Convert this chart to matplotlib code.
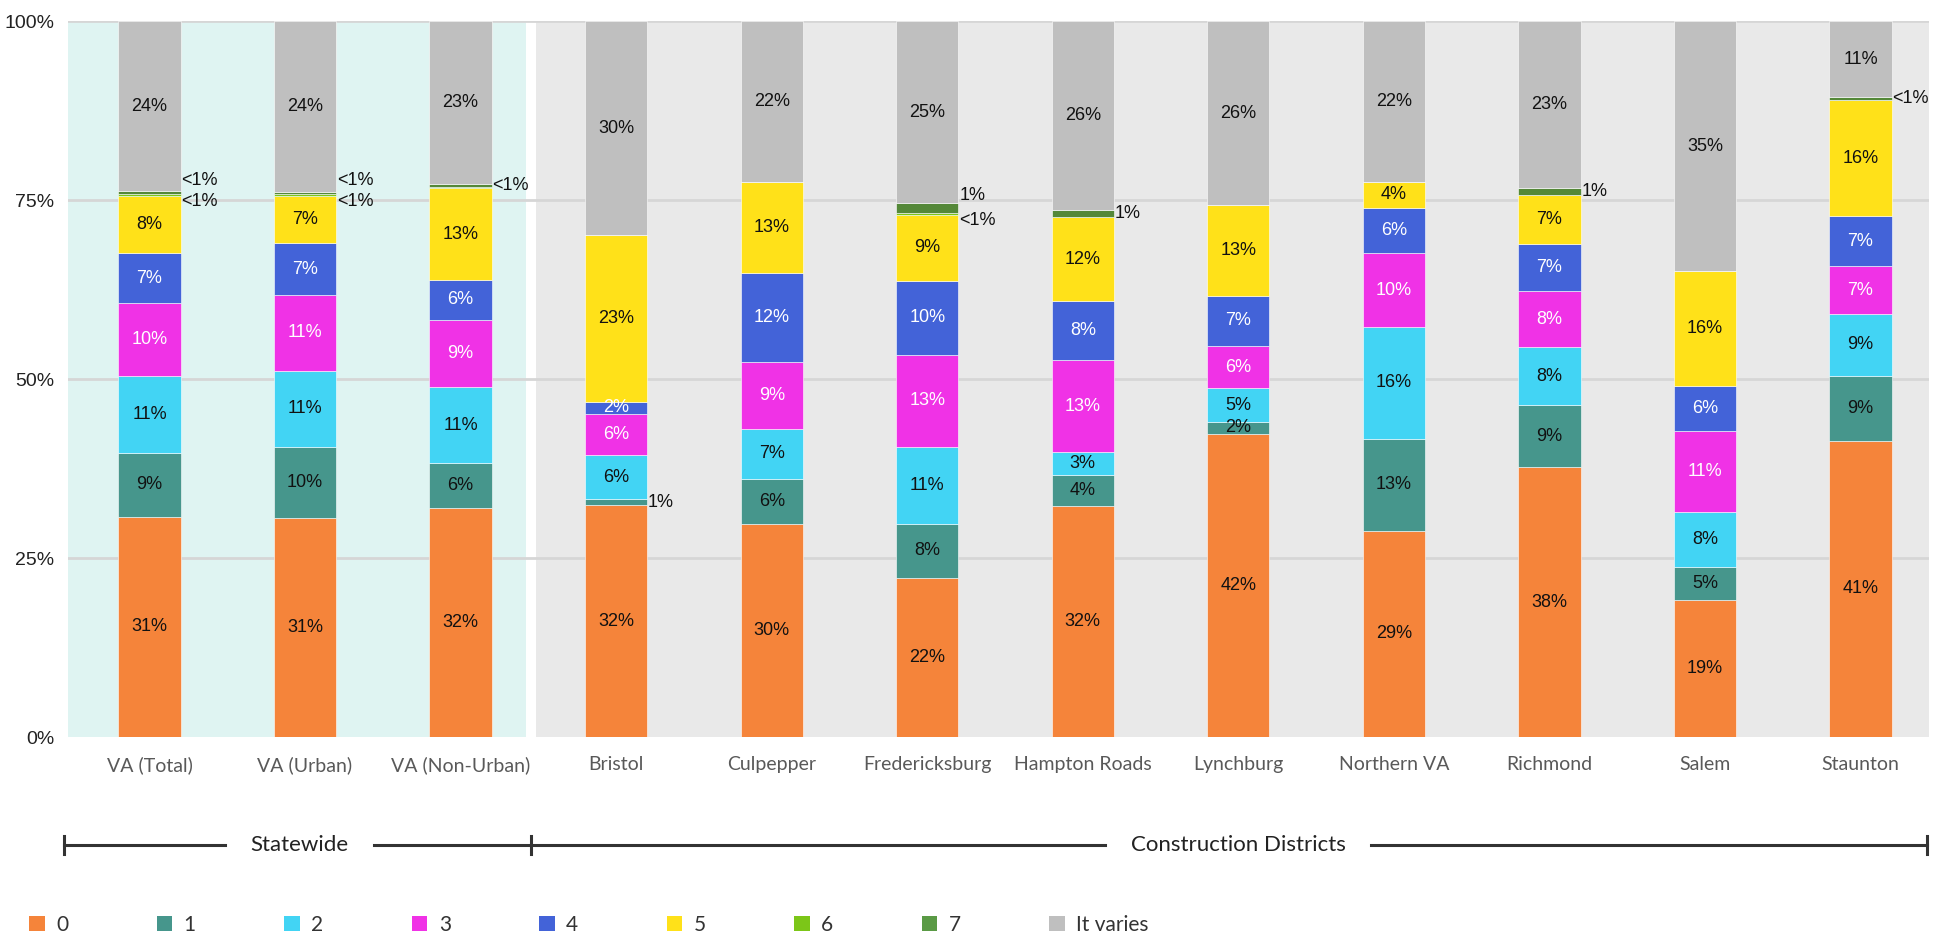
import matplotlib
matplotlib.use('Agg')
import matplotlib.pyplot as plt
from matplotlib.patches import Patch
import numpy as np

# ── Data (percent of respondents) ─────────────────────────────
categories = ['VA (Total)', 'VA (Urban)', 'VA (Non-Urban)', 'Bristol', 'Culpepper',
              'Fredericksburg', 'Hampton Roads', 'Lynchburg', 'Northern VA',
              'Richmond', 'Salem', 'Staunton']
series_names = ['0', '1', '2', '3', '4', '5', '6', '7', 'It varies']

v0 = [30.8, 30.6, 32.0, 32.4, 29.7, 22.2, 32.3, 42.4, 28.8, 37.7, 19.1, 41.4]
v1 = [8.9, 10.0, 6.3, 0.8, 6.4, 7.6, 4.3, 1.6, 12.9, 8.7, 4.6, 9.1]
v2 = [10.8, 10.6, 10.6, 6.2, 7.0, 10.8, 3.2, 4.8, 15.6, 8.1, 7.8, 8.6]
v3 = [10.2, 10.6, 9.4, 5.8, 9.3, 12.8, 12.9, 5.8, 10.3, 7.8, 11.3, 6.7]
v4 = [6.9, 7.2, 5.6, 1.6, 12.4, 10.4, 8.2, 7.1, 6.4, 6.6, 6.3, 7.0]
v5 = [8.0, 6.6, 12.8, 23.4, 12.8, 9.1, 11.8, 12.6, 3.6, 6.9, 16.0, 16.2]
v6 = [0.3, 0.3, 0.2, 0, 0, 0.4, 0, 0, 0, 0, 0, 0]
v7 = [0.4, 0.3, 0.4, 0, 0, 1.3, 0.9, 0, 0, 0.9, 0, 0.4]
v_varies = [23.7, 23.8, 22.7, 29.8, 22.4, 25.4, 26.4, 25.7, 22.4, 23.3, 34.9, 10.6]

groups = ['Statewide', 'Construction Districts']

colors = ['#F5843A', '#46968C', '#42D4F4', '#F032E6', '#4363D8',
          '#FFE119', '#7CC618', '#548838', '#BFBFBF']
legend_colors = colors[:7] + ['#5A9A45', '#BFBFBF']
white_text = {3, 4}

values = np.array([v0, v1, v2, v3, v4, v5, v6, v7, v_varies])
x = np.arange(len(categories))
bar_w = 0.4

# ── Figure ────────────────────────────────────────────────────
fig = plt.figure(figsize=(19.39, 9.38), dpi=100)
ax = fig.add_axes([68 / 1939, 1 - 737 / 938, (1929 - 68) / 1939, (737 - 21.5) / 938])
ax.set_xlim(-0.524, 11.44)
ax.set_ylim(0, 100)

lab_font = ['Liberation Sans Narrow', 'Liberation Sans', 'DejaVu Sans']
cat_font = ['Lato', 'DejaVu Sans']

# background bands
ax.axvspan(-0.6, 2.42, color='#DFF4F2', zorder=0, lw=0)
ax.axvspan(2.485, 11.6, color='#E9E9E9', zorder=0, lw=0)
for yv in [25, 50, 75, 100]:
    ax.axhline(yv, color='#D6D6D6', lw=2, zorder=1)

bottom = np.zeros(len(categories))
for k, name in enumerate(series_names):
    vals = values[k]
    ax.bar(x, vals, bar_w, bottom=bottom, color=colors[k], edgecolor='#FFFFFF',
           linewidth=0.4, zorder=2, label=name)
    for i, v in enumerate(vals):
        if v < 0.25:
            continue
        mid = bottom[i] + v / 2
        txt = '<1%' if v < 0.5 else f'{v:.0f}%'
        if v < 1.4:
            # tiny segments are labelled to the right of the bar
            dy = 0
            if k == 7 and v6[i] >= 0.25:
                dy = 9
            elif k == 6 and v7[i] >= 0.25:
                dy = -5
            ax.annotate(txt, (x[i] + bar_w / 2 + 0.005, mid), xytext=(0, dy),
                        textcoords='offset points', ha='left', va='center',
                        fontsize=13, family=lab_font, color='#111111', zorder=4)
        else:
            ax.text(x[i], mid, txt, ha='center', va='center', fontsize=13,
                    family=lab_font, zorder=4,
                    color='white' if k in white_text else '#111111')
    bottom += vals

for s in ax.spines.values():
    s.set_visible(False)
ax.set_yticks([0, 25, 50, 75, 100])
ax.set_yticklabels(['0%', '25%', '50%', '75%', '100%'], family=lab_font,
                   fontsize=14, color='#222222')
ax.set_xticks(x)
ax.set_xticklabels(categories, family=cat_font, fontsize=14, color='#595959')
ax.tick_params(length=0, axis='both')
ax.tick_params(axis='x', pad=14)
ax.tick_params(axis='y', pad=10)

# ── Group brackets ────────────────────────────────────────────
yb = -15.1
div = 2.45
edges = [(-0.55, div), (div, 11.43)]
centers = [0.965, 7.0]
halves = [0.48, 0.855]
for gname, (l, r), c, half in zip(groups, edges, centers, halves):
    ax.plot([l, c - half], [yb, yb], color='#333333', lw=2.2, clip_on=False)
    ax.plot([c + half, r], [yb, yb], color='#333333', lw=2.2, clip_on=False)
    ax.text(c, yb, gname, ha='center', va='center', fontsize=16,
            family=cat_font, color='#222222', clip_on=False)
for xe in [-0.55, div, 11.43]:
    ax.plot([xe, xe], [yb - 1.2, yb + 1.2], color='#333333', lw=2.2, clip_on=False)

# ── Legend ────────────────────────────────────────────────────
handles = [Patch(facecolor=c, edgecolor='none') for c in legend_colors]
fig.legend(handles, series_names, loc='center left',
           bbox_to_anchor=(29 / 1939, 1 - 925 / 938), ncol=9, frameon=False,
           prop={'family': cat_font, 'size': 15}, labelcolor='#333333',
           handlelength=0.75, handleheight=0.75, handletextpad=0.55,
           columnspacing=4.24, borderpad=0, borderaxespad=0)

plt.savefig('out.png', dpi=100)
plt.close()
print("Saved out.png")
